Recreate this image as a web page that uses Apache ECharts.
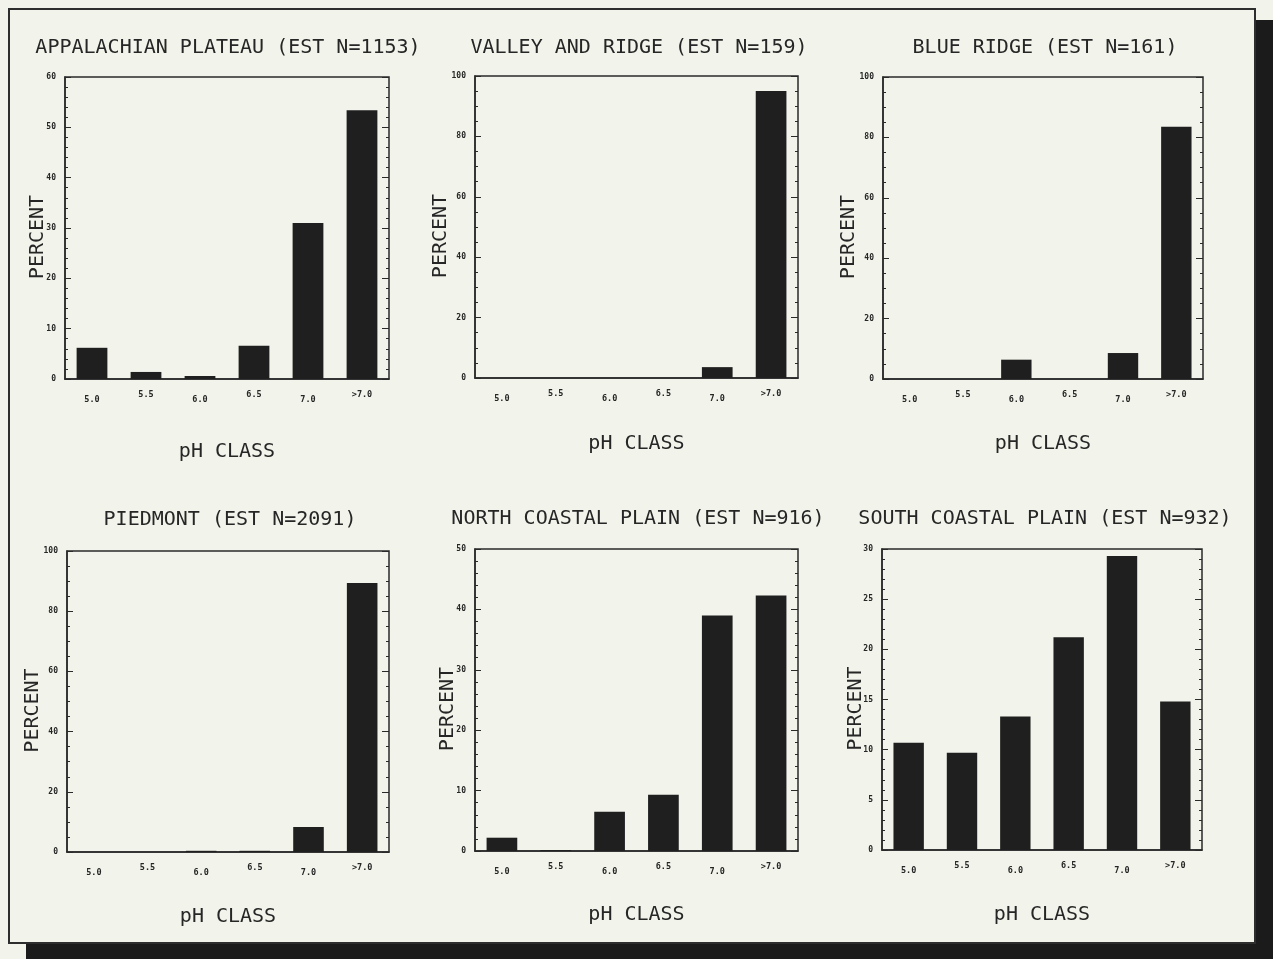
<!DOCTYPE html>
<html>
<head>
<meta charset="utf-8">
<script src="https://cdn.jsdelivr.net/npm/echarts@6/dist/echarts.min.js"></script>
<style>
html,body{margin:0;padding:0;background:#f2f3ea;}
#main{width:1273px;height:959px;}
</style>
</head>
<body>
<div id="main"></div>
<script>
// ---- data ----
const categories = ['5.0', '5.5', '6.0', '6.5', '7.0', '>7.0'];
const titles = [
  'APPALACHIAN PLATEAU (EST N=1153)',
  'VALLEY AND RIDGE (EST N=159)',
  'BLUE RIDGE (EST N=161)',
  'PIEDMONT (EST N=2091)',
  'NORTH COASTAL PLAIN (EST N=916)',
  'SOUTH COASTAL PLAIN (EST N=932)'
];
const appalachianPlateau = [6.2, 1.4, 0.6, 6.6, 31.0, 53.4];
const valleyAndRidge     = [0, 0, 0, 0, 3.6, 95.0];
const blueRidge          = [0, 0, 6.4, 0, 8.6, 83.5];
const piedmont           = [0, 0, 0.4, 0.4, 8.3, 89.4];
const northCoastalPlain  = [2.2, 0.15, 6.5, 9.3, 39.0, 42.3];
const southCoastalPlain  = [10.7, 9.7, 13.3, 21.2, 29.3, 14.8];
const yMax      = [60, 100, 100, 100, 50, 30];
const yInterval = [10, 20, 20, 20, 10, 5];
const yMinorSplit = [5, 4, 4, 4, 5, 5];
const seriesValues = [appalachianPlateau, valleyAndRidge, blueRidge, piedmont, northCoastalPlain, southCoastalPlain];
const xTitle = 'pH CLASS';
const yTitle = 'PERCENT';

// ---- layout ----
const grids = [
  {left: 65,  top: 77,  width: 324, height: 302},
  {left: 475, top: 76,  width: 323, height: 302},
  {left: 883, top: 77,  width: 320, height: 302},
  {left: 67,  top: 551, width: 322, height: 301},
  {left: 475, top: 549, width: 323, height: 302},
  {left: 882, top: 549, width: 320, height: 301}
];
const titlePos = [
  {x: 223, y: 33}, {x: 634, y: 33}, {x: 1040, y: 33},
  {x: 225, y: 505}, {x: 633, y: 504}, {x: 1040, y: 504}
];
const xNameGap = [63, 56, 55, 55, 54, 55];
const yNameGap = [17, 24, 24, 24, 17, 16];
const FONT = 'DejaVu Sans Mono';
const INK = '#262626';

const option = {
  backgroundColor: '#f2f3ea',
  animation: false,
  title: titles.map((t, i) => ({
    text: t,
    left: titlePos[i].x,
    top: titlePos[i].y,
    textAlign: 'center',
    textStyle: {fontFamily: FONT, fontSize: 20, fontWeight: 'normal', color: INK, letterSpacing: 0.2}
  })),
  graphic: [
    {type: 'rect', shape: {x: 1256, y: 20, width: 17, height: 939}, style: {fill: '#1b1b1b'}},
    {type: 'rect', shape: {x: 26, y: 944, width: 1247, height: 15}, style: {fill: '#1b1b1b'}},
    {type: 'rect', shape: {x: 9, y: 9, width: 1246, height: 934}, style: {fill: 'none', stroke: '#2e2e2e', lineWidth: 2}}
  ],
  grid: grids.map(g => Object.assign({}, g, {show: true, borderColor: '#2a2a2a', borderWidth: 1.5, backgroundColor: 'transparent'})),
  xAxis: grids.map((g, i) => ({
    type: 'category',
    gridIndex: i,
    data: categories,
    name: xTitle,
    nameLocation: 'middle',
    nameGap: xNameGap[i],
    nameTextStyle: {fontFamily: FONT, fontSize: 20, color: INK},
    axisLine: {show: true, lineStyle: {color: '#2a2a2a', width: 1.5}},
    axisTick: {show: false},
    axisLabel: {
      interval: 0,
      margin: 11,
      formatter: (v, idx) => (idx % 2 === 0 ? '{lo|' + v + '}' : '{hi|' + v + '}'),
      rich: {
        lo: {fontFamily: FONT, fontSize: 8.5, fontWeight: 'bold', color: INK, padding: [5, 0, 0, 0]},
        hi: {fontFamily: FONT, fontSize: 8.5, fontWeight: 'bold', color: INK, padding: [0, 0, 5, 0]}
      }
    },
    splitLine: {show: false}
  })),
  yAxis: [].concat(
    grids.map((g, i) => ({
      type: 'value',
      gridIndex: i,
      position: 'left',
      min: 0,
      max: yMax[i],
      interval: yInterval[i],
      name: yTitle,
      nameLocation: 'middle',
      nameGap: yNameGap[i],
      nameMoveOverlap: false,
      nameRotate: 90,
      nameTextStyle: {fontFamily: FONT, fontSize: 20, color: INK, padding: [0, 18, 0, 0]},
      axisLine: {show: true, lineStyle: {color: '#2a2a2a', width: 1.5}},
      axisTick: {show: true, inside: true, length: 6, lineStyle: {color: '#2a2a2a'}},
      minorTick: {show: true, splitNumber: yMinorSplit[i], length: 3, lineStyle: {color: '#2a2a2a'}},
      axisLabel: {margin: 9, fontFamily: FONT, fontSize: 8, fontWeight: 'bold', color: INK},
      splitLine: {show: false}
    })),
    grids.map((g, i) => ({
      type: 'value',
      gridIndex: i,
      position: 'right',
      min: 0,
      max: yMax[i],
      interval: yInterval[i],
      axisLine: {show: false},
      axisTick: {show: true, inside: true, length: 7, lineStyle: {color: '#2a2a2a'}},
      minorTick: {show: true, splitNumber: yMinorSplit[i], length: 3, lineStyle: {color: '#2a2a2a'}},
      axisLabel: {show: false},
      splitLine: {show: false}
    }))
  ),
  series: seriesValues.map((vals, i) => ({
    type: 'bar',
    xAxisIndex: i,
    yAxisIndex: i,
    data: vals,
    barWidth: '57%',
    itemStyle: {color: '#1f1f1f'}
  }))
};

const chart = echarts.init(document.getElementById('main'), null, {renderer: 'canvas'});
chart.setOption(option);
</script>
</body>
</html>
